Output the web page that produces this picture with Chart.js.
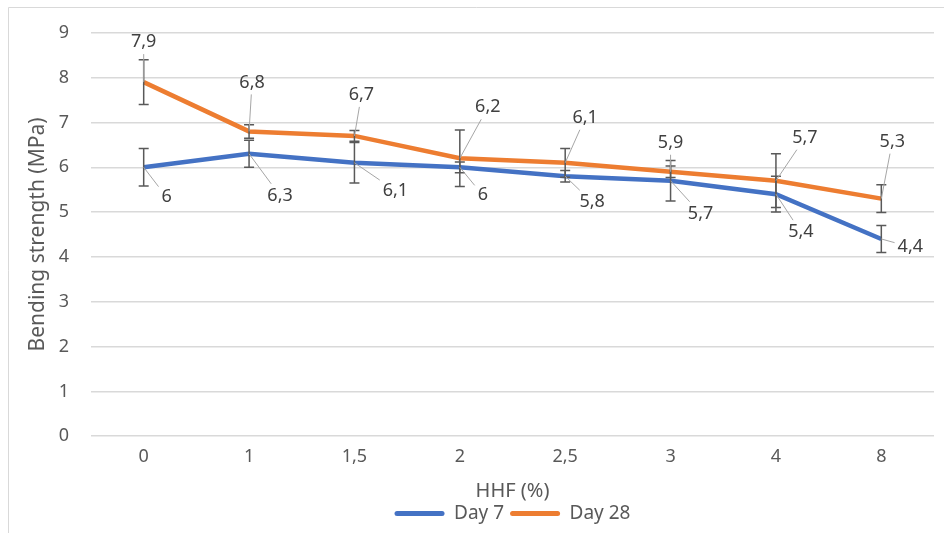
<!DOCTYPE html>
<html>
<head>
<meta charset="utf-8">
<script src="https://cdn.jsdelivr.net/npm/chart.js@4.4.0/dist/chart.umd.min.js"></script>
<style>
  html, body { margin: 0; padding: 0; background: #fff; }
  #wrap { position: relative; width: 944px; height: 533px; }
</style>
</head>
<body>
<div id="wrap"><canvas id="chart" width="944" height="533"></canvas></div>
<script>
const categories = ["0", "1", "1,5", "2", "2,5", "3", "4", "8"];
const day7 = [6, 6.3, 6.1, 6, 5.8, 5.7, 5.4, 4.4];
const day28 = [7.9, 6.8, 6.7, 6.2, 6.1, 5.9, 5.7, 5.3];
const day7Err = [0.42, 0.3, 0.45, 0.12, 0.13, 0.45, 0.4, 0.3];
const day28Err = [0.5, 0.15, 0.12, 0.63, 0.32, 0.13, 0.6, 0.31];

const textColor = "#595959";
const fontFamily = "'Noto Sans', sans-serif";

// where each value label sits relative to its point (px)
const labelOffsets = {
  0: [[23, 30], [31, 42], [41, 28], [23, 28], [27, 26], [30, 33], [25, 38], [29, 8]],
  1: [[0, -40], [3, -49], [7, -41], [28, -51], [20, -45], [0, -29], [29, -43], [11, -57]],
};

const errorBars = {
  id: "errorBars",
  afterDatasetsDraw(chart) {
    const ctx = chart.ctx;
    const y = chart.scales.y;
    ctx.save();
    ctx.strokeStyle = "#595959";
    ctx.lineWidth = 1.5;
    chart.data.datasets.forEach((ds, i) => {
      const meta = chart.getDatasetMeta(i);
      meta.data.forEach((pt, j) => {
        const e = ds.errors[j];
        const top = y.getPixelForValue(ds.data[j] + e);
        const bot = y.getPixelForValue(ds.data[j] - e);
        ctx.beginPath();
        ctx.moveTo(pt.x, top);
        ctx.lineTo(pt.x, bot);
        ctx.moveTo(pt.x - 5, top);
        ctx.lineTo(pt.x + 5, top);
        ctx.moveTo(pt.x - 5, bot);
        ctx.lineTo(pt.x + 5, bot);
        ctx.stroke();
      });
    });
    ctx.restore();
  },
};

const valueLabels = {
  id: "valueLabels",
  afterDatasetsDraw(chart) {
    const ctx = chart.ctx;
    ctx.save();
    ctx.font = "18px " + fontFamily;
    ctx.textAlign = "center";
    ctx.textBaseline = "middle";
    chart.data.datasets.forEach((ds, i) => {
      const meta = chart.getDatasetMeta(i);
      meta.data.forEach((pt, j) => {
        const txt = String(ds.data[j]).replace(".", ",");
        const [dx, dy] = labelOffsets[i][j];
        const lx = pt.x + dx;
        const ly = pt.y + dy;
        const hw = ctx.measureText(txt).width / 2 + 3;
        const hh = 12;
        // leader line from point to edge of the label box
        const t = Math.min(
          dx !== 0 ? Math.abs(hw / dx) : Infinity,
          dy !== 0 ? Math.abs(hh / dy) : Infinity
        );
        const ex = lx - dx * t;
        const ey = ly - dy * t;
        if (Math.hypot(ex - pt.x, ey - pt.y) > 8) {
          ctx.strokeStyle = "#A6A6A6";
          ctx.lineWidth = 1;
          ctx.beginPath();
          ctx.moveTo(pt.x, pt.y);
          ctx.lineTo(ex, ey);
          ctx.stroke();
        }
        ctx.fillStyle = "#404040";
        ctx.fillText(txt, lx, ly);
      });
    });
    ctx.restore();
  },
};

// centre the legend under the plot area rather than the whole canvas
const legendUnderPlot = {
  id: "legendUnderPlot",
  afterLayout(chart) {
    const lg = chart.legend;
    if (!lg) return;
    lg.left = chart.chartArea.left;
    lg.right = chart.chartArea.right;
    lg.width = lg.right - lg.left;
  },
};

const frame = {
  id: "frame",
  beforeDraw(chart) {
    const ctx = chart.ctx;
    ctx.save();
    ctx.fillStyle = "#fff";
    ctx.fillRect(0, 0, chart.width, chart.height);
    ctx.strokeStyle = "#D9D9D9";
    ctx.lineWidth = 1;
    ctx.beginPath();
    ctx.moveTo(8.5, chart.height);
    ctx.lineTo(8.5, 7.5);
    ctx.lineTo(chart.width, 7.5);
    ctx.stroke();
    ctx.restore();
  },
};

new Chart(document.getElementById("chart"), {
  type: "line",
  data: {
    labels: categories,
    datasets: [
      {
        label: "Day 7",
        data: day7,
        errors: day7Err,
        borderColor: "#4472C4",
        backgroundColor: "#4472C4",
        borderWidth: 4.5,
        pointRadius: 0,
        tension: 0,
      },
      {
        label: "Day 28",
        data: day28,
        errors: day28Err,
        borderColor: "#ED7D31",
        backgroundColor: "#ED7D31",
        borderWidth: 4.5,
        pointRadius: 0,
        tension: 0,
      },
    ],
  },
  options: {
    responsive: false,
    animation: false,
    layout: { padding: { top: 29, right: 10, left: 0, bottom: 0 } },
    plugins: {
      tooltip: { enabled: false },
      legend: {
        position: "bottom",
        labels: {
          boxWidth: 50,
          boxHeight: 5,
          padding: 6,
          useBorderRadius: true,
          borderRadius: 2.5,
          color: textColor,
          font: { family: fontFamily, size: 19, lineHeight: 1 },
          generateLabels: (chart) =>
            Chart.defaults.plugins.legend.labels
              .generateLabels(chart)
              .map((l) => ({ ...l, lineWidth: 0 })),
        },
      },
    },
    scales: {
      x: {
        offset: true,
        grid: { display: false, drawTicks: false },
        border: { display: false },
        ticks: {
          color: textColor,
          padding: 10,
          font: { family: fontFamily, size: 18 },
        },
        title: {
          display: true,
          text: "HHF (%)",
          color: textColor,
          padding: { top: 0, bottom: 0 },
          font: { family: fontFamily, size: 20, lineHeight: 0.7 },
        },
        afterFit: (scale) => {
          scale.height = 61.8;
        },
      },
      y: {
        min: 0,
        max: 9,
        ticks: {
          stepSize: 1,
          color: textColor,
          padding: 22,
          font: { family: fontFamily, size: 18 },
        },
        grid: { color: "#D9D9D9", lineWidth: 1.5, drawTicks: false },
        border: { display: false },
        title: {
          display: true,
          text: "Bending strength (MPa)",
          color: textColor,
          padding: { top: 25.4, bottom: 0 },
          font: { family: fontFamily, size: 21 },
        },
        afterFit: (scale) => {
          scale.width = 91;
        },
      },
    },
  },
  plugins: [frame, errorBars, valueLabels, legendUnderPlot],
});
</script>
</body>
</html>
